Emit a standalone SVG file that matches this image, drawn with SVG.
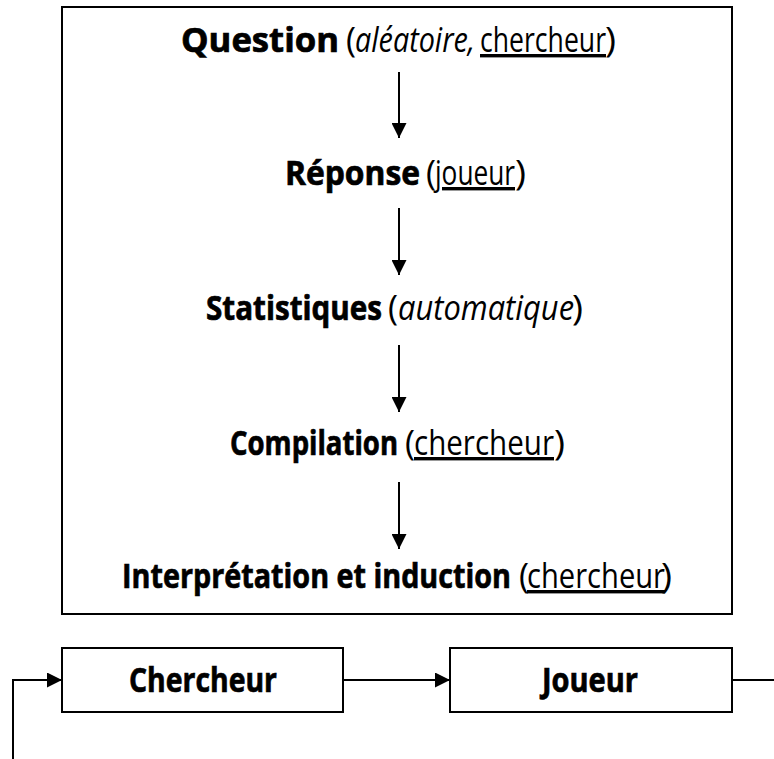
<svg xmlns="http://www.w3.org/2000/svg" width="774" height="759" viewBox="0 0 774 759">
  <defs>
    <marker id="arrow" viewBox="0 0 15 15" refX="15" refY="7.5" markerWidth="15" markerHeight="15" markerUnits="userSpaceOnUse" orient="auto">
      <path d="M0,0 L15,7.5 L0,15 Z" fill="#000"/>
    </marker>
    <style>
      .box { fill: #fff; stroke: #000; stroke-width: 2; }
      .edge { fill: none; stroke: #000; stroke-width: 2; }
      .lbl { font-family: "Open Sans", Roboto, "DejaVu Sans", sans-serif; font-size: 34px; fill: #000; }
      .b { font-weight: 700; stroke: #000; stroke-width: 0.7; }
      .r { font-weight: 400; }
      .i { font-weight: 400; font-style: italic; }
      .u { font-weight: 400; text-decoration: underline; }
    </style>
  </defs>

  <rect width="774" height="759" fill="#fff"/>

  <!-- process frame holding the five steps -->
  <g id="process">
    <rect class="box" x="62" y="7" width="670" height="607"/>
  </g>

  <g id="step-question">
    <text class="lbl" y="52"><tspan class="b" x="181" textLength="158" lengthAdjust="spacingAndGlyphs">Question</tspan><tspan class="r" x="346" textLength="10" lengthAdjust="spacingAndGlyphs">(</tspan><tspan class="i" x="355" textLength="120" lengthAdjust="spacingAndGlyphs">aléatoire,</tspan><tspan class="u" x="480" textLength="126" lengthAdjust="spacingAndGlyphs">chercheur</tspan><tspan class="r" x="605" textLength="11" lengthAdjust="spacingAndGlyphs">)</tspan></text>
  </g>

  <g id="step-reponse">
    <text class="lbl" y="185"><tspan class="b" x="285" textLength="135" lengthAdjust="spacingAndGlyphs">Réponse</tspan><tspan class="r" x="426" textLength="10" lengthAdjust="spacingAndGlyphs">(</tspan><tspan class="u" x="435" textLength="80" lengthAdjust="spacingAndGlyphs">joueur</tspan><tspan class="r" x="515" textLength="11" lengthAdjust="spacingAndGlyphs">)</tspan></text>
  </g>

  <g id="step-statistiques">
    <text class="lbl" y="320"><tspan class="b" x="206" textLength="176" lengthAdjust="spacingAndGlyphs">Statistiques</tspan><tspan class="r" x="388" textLength="10" lengthAdjust="spacingAndGlyphs">(</tspan><tspan class="i" x="398" textLength="176" lengthAdjust="spacingAndGlyphs">automatique</tspan><tspan class="r" x="572" textLength="11" lengthAdjust="spacingAndGlyphs">)</tspan></text>
  </g>

  <g id="step-compilation">
    <text class="lbl" y="455"><tspan class="b" x="230" textLength="168" lengthAdjust="spacingAndGlyphs">Compilation</tspan><tspan class="r" x="405" textLength="10" lengthAdjust="spacingAndGlyphs">(</tspan><tspan class="u" x="414" textLength="140" lengthAdjust="spacingAndGlyphs">chercheur</tspan><tspan class="r" x="554" textLength="11" lengthAdjust="spacingAndGlyphs">)</tspan></text>
  </g>

  <g id="step-interpretation">
    <text class="lbl" y="588"><tspan class="b" x="122" textLength="389" lengthAdjust="spacingAndGlyphs">Interprétation et induction</tspan><tspan class="r" x="519" textLength="10" lengthAdjust="spacingAndGlyphs">(</tspan><tspan class="u" x="527" textLength="138" lengthAdjust="spacingAndGlyphs">chercheur</tspan><tspan class="r" x="661" textLength="11" lengthAdjust="spacingAndGlyphs">)</tspan></text>
  </g>

  <!-- actors -->
  <g id="chercheur">
    <rect class="box" x="62" y="648" width="281" height="64"/>
    <text class="lbl b" x="129" y="692" textLength="148" lengthAdjust="spacingAndGlyphs">Chercheur</text>
  </g>

  <g id="joueur">
    <rect class="box" x="450" y="648" width="282" height="64"/>
    <text class="lbl b" x="542" y="692" textLength="96" lengthAdjust="spacingAndGlyphs">Joueur</text>
  </g>

  <!-- connectors -->
  <g id="connectors">
    <line class="edge" x1="399" y1="72" x2="399" y2="138" marker-end="url(#arrow)"/>
    <line class="edge" x1="399" y1="208" x2="399" y2="275" marker-end="url(#arrow)"/>
    <line class="edge" x1="399" y1="345" x2="399" y2="412" marker-end="url(#arrow)"/>
    <line class="edge" x1="399" y1="482" x2="399" y2="549" marker-end="url(#arrow)"/>
    <line class="edge" x1="343" y1="680" x2="450" y2="680" marker-end="url(#arrow)"/>
    <path class="edge" d="M732,680 H790 V759.9 H13 V680 H62" marker-end="url(#arrow)"/>
  </g>
</svg>
